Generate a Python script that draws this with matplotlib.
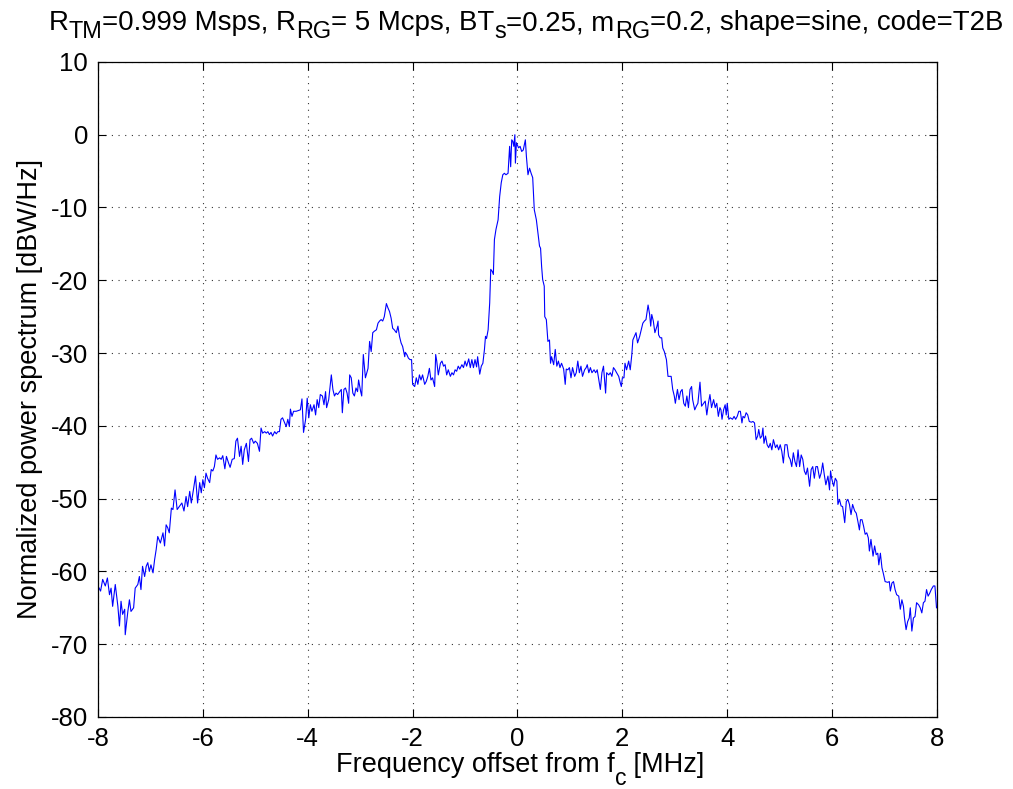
import numpy as np
import matplotlib
matplotlib.use("Agg")
import matplotlib.pyplot as plt

# spectrum values (MHz offset, dBW/Hz)
freq_mhz = [
    -8.00, -7.95, -7.91, -7.86, -7.82, -7.78, -7.75, -7.72, -7.67, -7.62, -7.59, -7.56, -7.53, -7.49, -7.48,
    -7.43, -7.40, -7.37, -7.32, -7.29, -7.24, -7.21, -7.18, -7.15, -7.11, -7.08, -7.05, -7.02, -6.99, -6.95,
    -6.92, -6.89, -6.86, -6.81, -6.76, -6.73, -6.70, -6.67, -6.64, -6.60, -6.57, -6.53, -6.49, -6.45, -6.40,
    -6.36, -6.32, -6.29, -6.25, -6.22, -6.18, -6.14, -6.10, -6.06, -6.03,
    -6.00, -5.97, -5.94, -5.91, -5.87, -5.84, -5.81, -5.78, -5.75, -5.72, -5.68, -5.65, -5.62, -5.58, -5.55,
    -5.51, -5.48, -5.44, -5.40, -5.37, -5.34, -5.30, -5.27, -5.24, -5.21, -5.17, -5.13, -5.10, -5.07, -5.03,
    -5.00, -4.96, -4.92, -4.89, -4.86, -4.82, -4.79, -4.76, -4.73, -4.70, -4.67, -4.63, -4.60, -4.57, -4.54,
    -4.51, -4.48, -4.44, -4.41, -4.38, -4.35, -4.33, -4.30, -4.27, -4.22, -4.18, -4.14, -4.11, -4.08, -4.04,
    -4.01, -3.98, -3.95, -3.92, -3.88, -3.85, -3.82, -3.79, -3.76, -3.72, -3.69, -3.66, -3.64, -3.60, -3.55,
    -3.52, -3.49, -3.46, -3.43, -3.39, -3.36, -3.34, -3.31, -3.28, -3.25, -3.22, -3.20, -3.17, -3.14, -3.11,
    -3.08, -3.05, -3.03, -2.99, -2.97, -2.94, -2.90, -2.85, -2.82, -2.79, -2.76, -2.73, -2.69, -2.66, -2.63,
    -2.60, -2.57, -2.54, -2.50, -2.47, -2.44, -2.41, -2.38, -2.35, -2.31, -2.28, -2.25, -2.22, -2.19,
    -2.15, -2.14, -2.11, -2.08, -2.05, -2.02, -2.00, -1.96, -1.93, -1.90, -1.87, -1.84, -1.81, -1.77, -1.74,
    -1.71, -1.68, -1.65, -1.62, -1.58, -1.56, -1.54, -1.51, -1.47, -1.44, -1.41, -1.38, -1.35, -1.32, -1.28,
    -1.25, -1.22, -1.19, -1.16, -1.13, -1.10, -1.06, -1.03, -1.00, -0.97, -0.93, -0.90, -0.87, -0.84, -0.81,
    -0.78, -0.76, -0.72, -0.69, -0.66, -0.63, -0.61, -0.59, -0.56, -0.53, -0.51, -0.48, -0.46, -0.44, -0.41,
    -0.37, -0.34, -0.31, -0.28, -0.25, -0.22, -0.18, -0.15, -0.13, -0.11, -0.09, -0.07, -0.05, -0.04, -0.02,
    0.02, 0.05, 0.08, 0.11, 0.15, 0.17, 0.20, 0.23, 0.26, 0.29, 0.32, 0.36, 0.39, 0.42, 0.44,
    0.46, 0.48, 0.51, 0.52, 0.55, 0.58, 0.61, 0.63, 0.65, 0.69, 0.72, 0.75, 0.78, 0.81, 0.84,
    0.88, 0.91, 0.93, 0.96, 0.99, 1.02, 1.05, 1.09, 1.12, 1.15, 1.18, 1.21, 1.24, 1.28, 1.31,
    1.33, 1.36, 1.39, 1.42, 1.46, 1.49, 1.52, 1.55, 1.58, 1.61, 1.64, 1.68, 1.70, 1.74, 1.77,
    1.80, 1.83, 1.86, 1.89, 1.93,
    1.96, 1.98, 2.00, 2.03, 2.05, 2.08, 2.12, 2.15, 2.18, 2.20, 2.23, 2.26, 2.29, 2.33, 2.36,
    2.39, 2.42, 2.45, 2.49, 2.52, 2.54, 2.56, 2.59, 2.62, 2.66, 2.68, 2.69, 2.72, 2.75, 2.77,
    2.80, 2.84, 2.87, 2.90, 2.93, 2.96, 2.99, 3.01, 3.05, 3.08, 3.11, 3.14, 3.17, 3.20, 3.23,
    3.26, 3.29, 3.32, 3.34, 3.38, 3.41, 3.44, 3.48, 3.51, 3.55, 3.58, 3.61, 3.64, 3.67, 3.70,
    3.74, 3.77, 3.80, 3.83,
    3.86, 3.88, 3.90, 3.93, 3.96, 3.98, 4.00, 4.03, 4.06, 4.10, 4.13, 4.16, 4.19, 4.22, 4.25,
    4.28, 4.30, 4.33, 4.36, 4.39, 4.42, 4.46, 4.49, 4.52, 4.55, 4.58, 4.60, 4.63, 4.66, 4.68,
    4.70, 4.73, 4.76, 4.79, 4.82, 4.85, 4.88, 4.92, 4.95, 4.98, 5.01, 5.04, 5.07, 5.10, 5.14,
    5.17, 5.20, 5.23, 5.26, 5.29, 5.32, 5.35, 5.38, 5.41, 5.44, 5.47, 5.50, 5.53, 5.57, 5.60,
    5.63, 5.66, 5.69, 5.72, 5.76, 5.79, 5.82, 5.85, 5.88,
    5.92, 5.95, 5.97, 5.99, 6.03, 6.06, 6.09, 6.11, 6.14, 6.17, 6.20, 6.24, 6.27, 6.30, 6.33,
    6.36, 6.39, 6.43, 6.46, 6.49, 6.52, 6.54, 6.57, 6.60, 6.63, 6.66, 6.69, 6.71, 6.74, 6.78,
    6.81, 6.84, 6.87, 6.89, 6.92, 6.95, 6.98, 7.01, 7.06, 7.09, 7.11, 7.14, 7.17, 7.20, 7.23,
    7.27, 7.30, 7.33, 7.36, 7.38, 7.41, 7.44, 7.47, 7.49, 7.52, 7.55, 7.58, 7.61, 7.65, 7.68,
    7.71, 7.74, 7.77, 7.80, 7.83, 7.86, 7.89, 7.93, 7.96, 7.99,
]

psd_db = [
    -62.0, -62.7, -61.1, -62.0, -60.9, -63.2, -62.3, -64.8, -61.8, -64.8, -67.5, -64.1, -65.9, -65.2, -68.7,
    -65.5, -63.9, -65.5, -65.0, -62.3, -61.8, -60.7, -62.5, -59.3, -60.7, -59.3, -58.8, -60.0, -59.1, -60.2,
    -58.4, -57.0, -55.2, -56.1, -54.7, -56.5, -53.6, -54.0, -54.7, -51.3, -51.5, -48.8, -51.5, -51.1, -50.6,
    -51.7, -49.7, -51.1, -49.0, -50.6, -48.8, -46.9, -50.6, -47.8, -49.2,
    -47.4, -48.5, -46.5, -47.2, -47.8, -46.0, -46.2, -45.6, -44.0, -44.6, -44.4, -44.6, -44.1, -45.9, -44.2,
    -45.1, -45.7, -44.6, -44.5, -42.1, -41.7, -44.2, -42.8, -45.3, -43.3, -42.4, -44.9, -41.9, -41.7, -42.4,
    -42.1, -42.4, -43.5, -40.3, -41.0, -40.8, -41.0, -40.8, -41.2, -40.9, -41.4, -40.8, -41.1, -40.8, -40.8,
    -39.1, -38.9, -39.6, -40.1, -39.1, -40.1, -37.7, -38.7, -38.0, -38.0, -37.9, -37.8, -36.3, -40.9, -39.1,
    -36.2, -38.9, -37.1, -38.0, -37.1, -38.5, -36.4, -37.5, -35.7, -35.9, -37.1, -35.3, -37.5, -36.4, -33.0,
    -35.0, -35.9, -35.5, -35.7, -35.3, -35.0, -38.2, -35.0, -34.8, -35.5, -36.9, -33.0, -33.4, -35.5, -35.9,
    -34.8, -35.3, -33.7, -35.3, -35.9, -30.2, -33.4, -32.1, -28.4, -29.8, -27.2, -27.0, -26.8, -25.9, -25.6,
    -25.4, -25.6, -25.0, -23.2, -23.8, -24.3, -25.2, -26.6, -26.8, -27.2, -26.3, -27.7, -28.6, -29.1,
    -30.5, -29.9, -30.2, -30.7, -30.9, -30.9, -34.3, -34.6, -33.4, -34.3, -33.0, -33.7, -33.0, -34.3, -33.9,
    -33.2, -32.1, -33.7, -33.4, -34.6, -30.2, -31.1, -33.0, -31.4, -31.1, -31.8, -31.6, -33.0, -32.3, -33.2,
    -32.7, -33.0, -32.3, -32.5, -31.8, -32.2, -31.6, -32.0, -31.1, -31.8, -30.8, -32.0, -30.9, -32.0, -30.9,
    -31.9, -30.5, -32.9, -31.8, -31.4, -29.5, -27.7, -28.0, -26.8, -23.1, -18.5, -18.8, -19.2, -14.4, -13.0,
    -11.7, -8.5, -6.6, -5.5, -5.3, -5.5, -5.3, -1.6, -4.4, -0.7, -0.9, -1.6, 0.0, -3.9, -1.1,
    -1.8, -1.6, -2.3, -2.1, -0.7, -3.0, -5.5, -4.6, -5.3, -5.9, -10.3, -11.7, -13.5, -15.3, -15.6,
    -18.1, -19.9, -20.8, -25.0, -25.4, -28.4, -28.2, -31.4, -30.5, -31.6, -29.5, -31.8, -31.1, -32.0, -31.4,
    -32.2, -34.3, -32.2, -32.3, -32.0, -33.4, -32.0, -33.2, -32.7, -31.1, -32.7, -31.8, -33.2, -32.3, -32.0,
    -31.6, -32.7, -32.0, -32.7, -32.3, -32.7, -32.3, -33.7, -35.0, -32.7, -31.8, -35.5, -32.7, -33.0, -32.7,
    -33.2, -32.0, -32.3, -32.7, -33.2,
    -34.1, -34.6, -33.4, -33.4, -31.4, -32.3, -31.1, -32.3, -30.2, -28.2, -27.7, -27.2, -28.6, -27.7, -26.8,
    -25.9, -25.6, -25.4, -23.4, -24.7, -26.3, -24.7, -25.6, -27.2, -26.3, -25.6, -27.5, -27.9, -27.9, -29.3,
    -29.8, -30.9, -33.2, -33.2, -33.2, -35.0, -35.9, -36.9, -35.0, -36.4, -35.3, -35.0, -36.9, -37.3, -35.9,
    -37.5, -35.0, -34.6, -36.4, -37.8, -37.3, -36.9, -34.0, -37.3, -36.9, -36.6, -38.5, -36.9, -35.7, -37.5,
    -36.4, -37.5, -36.9, -38.7,
    -37.5, -37.8, -39.1, -37.8, -37.1, -38.5, -36.9, -39.1, -38.9, -39.1, -38.7, -39.1, -38.7, -38.0, -38.0,
    -39.6, -38.7, -38.9, -38.2, -38.5, -39.4, -39.5, -39.4, -39.6, -41.9, -41.4, -40.5, -41.7, -41.4, -40.3,
    -42.4, -41.4, -42.6, -43.0, -42.4, -43.3, -41.9, -43.0, -42.6, -43.3, -42.6, -43.5, -45.1, -42.6, -42.6,
    -44.2, -44.6, -45.6, -43.7, -44.9, -45.6, -43.3, -45.6, -44.0, -44.6, -46.2, -46.7, -45.8, -48.3, -46.0,
    -45.6, -47.2, -45.6, -45.6, -47.2, -46.5, -45.1, -46.7, -48.1,
    -46.9, -48.8, -46.2, -47.2, -48.3, -47.2, -47.6, -50.8, -50.1, -51.0, -51.1, -53.3, -50.4, -50.1, -50.8,
    -52.2, -50.8, -51.7, -52.0, -53.1, -54.3, -52.9, -52.9, -53.8, -54.9, -54.7, -55.4, -57.2, -55.6, -57.9,
    -56.5, -57.7, -57.5, -59.1, -57.5, -59.5, -60.4, -61.4, -61.5, -61.4, -62.7, -61.6, -61.4, -62.5, -63.2,
    -63.4, -65.2, -63.9, -64.8, -66.4, -68.0, -66.9, -66.4, -65.0, -68.2, -66.4, -66.2, -64.3, -64.6, -65.0,
    -65.7, -64.3, -64.1, -62.5, -63.4, -63.0, -62.5, -62.0, -62.0, -65.0,
]

x_ticks = [-8, -6, -4, -2, 0, 2, 4, 6, 8]
y_ticks = [10, 0, -10, -20, -30, -40, -50, -60, -70, -80]

# (text, is_subscript) pieces, MATLAB style subscripts
title_parts = [("R", False), ("TM", True), ("=0.999 Msps, R", False), ("RG", True),
               ("= 5 Mcps, BT", False), ("s", True), ("=0.25, m", False), ("RG", True),
               ("=0.2, shape=sine, code=T2B", False)]
xlabel_parts = [("Frequency offset from f", False), ("c", True), (" [MHz]", False)]
ylabel_text = "Normalized power spectrum [dBW/Hz]"

plt.rcParams['font.family'] = ['Liberation Sans', 'DejaVu Sans']
plt.rcParams['axes.unicode_minus'] = False

fig = plt.figure(figsize=(10.13, 7.89), dpi=100)
ax = fig.add_axes([0.0967, 0.0913, 0.8283, 0.8302])

ax.plot(freq_mhz, psd_db, color=(0, 0, 1), linewidth=0.8)

ax.set_xlim(-8, 8)
ax.set_ylim(-80, 10)
ax.set_xticks(x_ticks)
ax.set_yticks(y_ticks)
ax.grid(True, color='black', linestyle=(0, (1, 5)), linewidth=0.8, alpha=0.8)
ax.tick_params(direction='in', length=6, width=0.8, top=True, right=True, labelsize=18.5)
ax.tick_params(axis='x', pad=7)
ax.tick_params(axis='y', pad=7)
for s in ax.spines.values():
    s.set_linewidth(0.9)

ax.set_ylabel(ylabel_text, fontsize=19.5, labelpad=6)


def rich_text(parts, xc_px, base_px, size, sub_scale=0.85, drop_px=8):
    # lay out pieces left to right, subscripts smaller and lowered
    renderer = fig.canvas.get_renderer()
    W, H = fig.bbox.width, fig.bbox.height
    arts = []
    for txt, sub in parts:
        yb = base_px + (drop_px if sub else 0)
        t = fig.text(0, 1 - yb / H, txt, fontsize=size * (sub_scale if sub else 1),
                     ha='left', va='baseline')
        arts.append(t)
    widths = [t.get_window_extent(renderer).width for t in arts]
    x = xc_px - sum(widths) / 2
    for t, w in zip(arts, widths):
        t.set_x(x / W)
        x += w


rich_text(title_parts, 526, 30, 19.9, drop_px=8)
rich_text(xlabel_parts, 520, 772, 19.5, drop_px=13)

fig.savefig('out.png', dpi=100)
